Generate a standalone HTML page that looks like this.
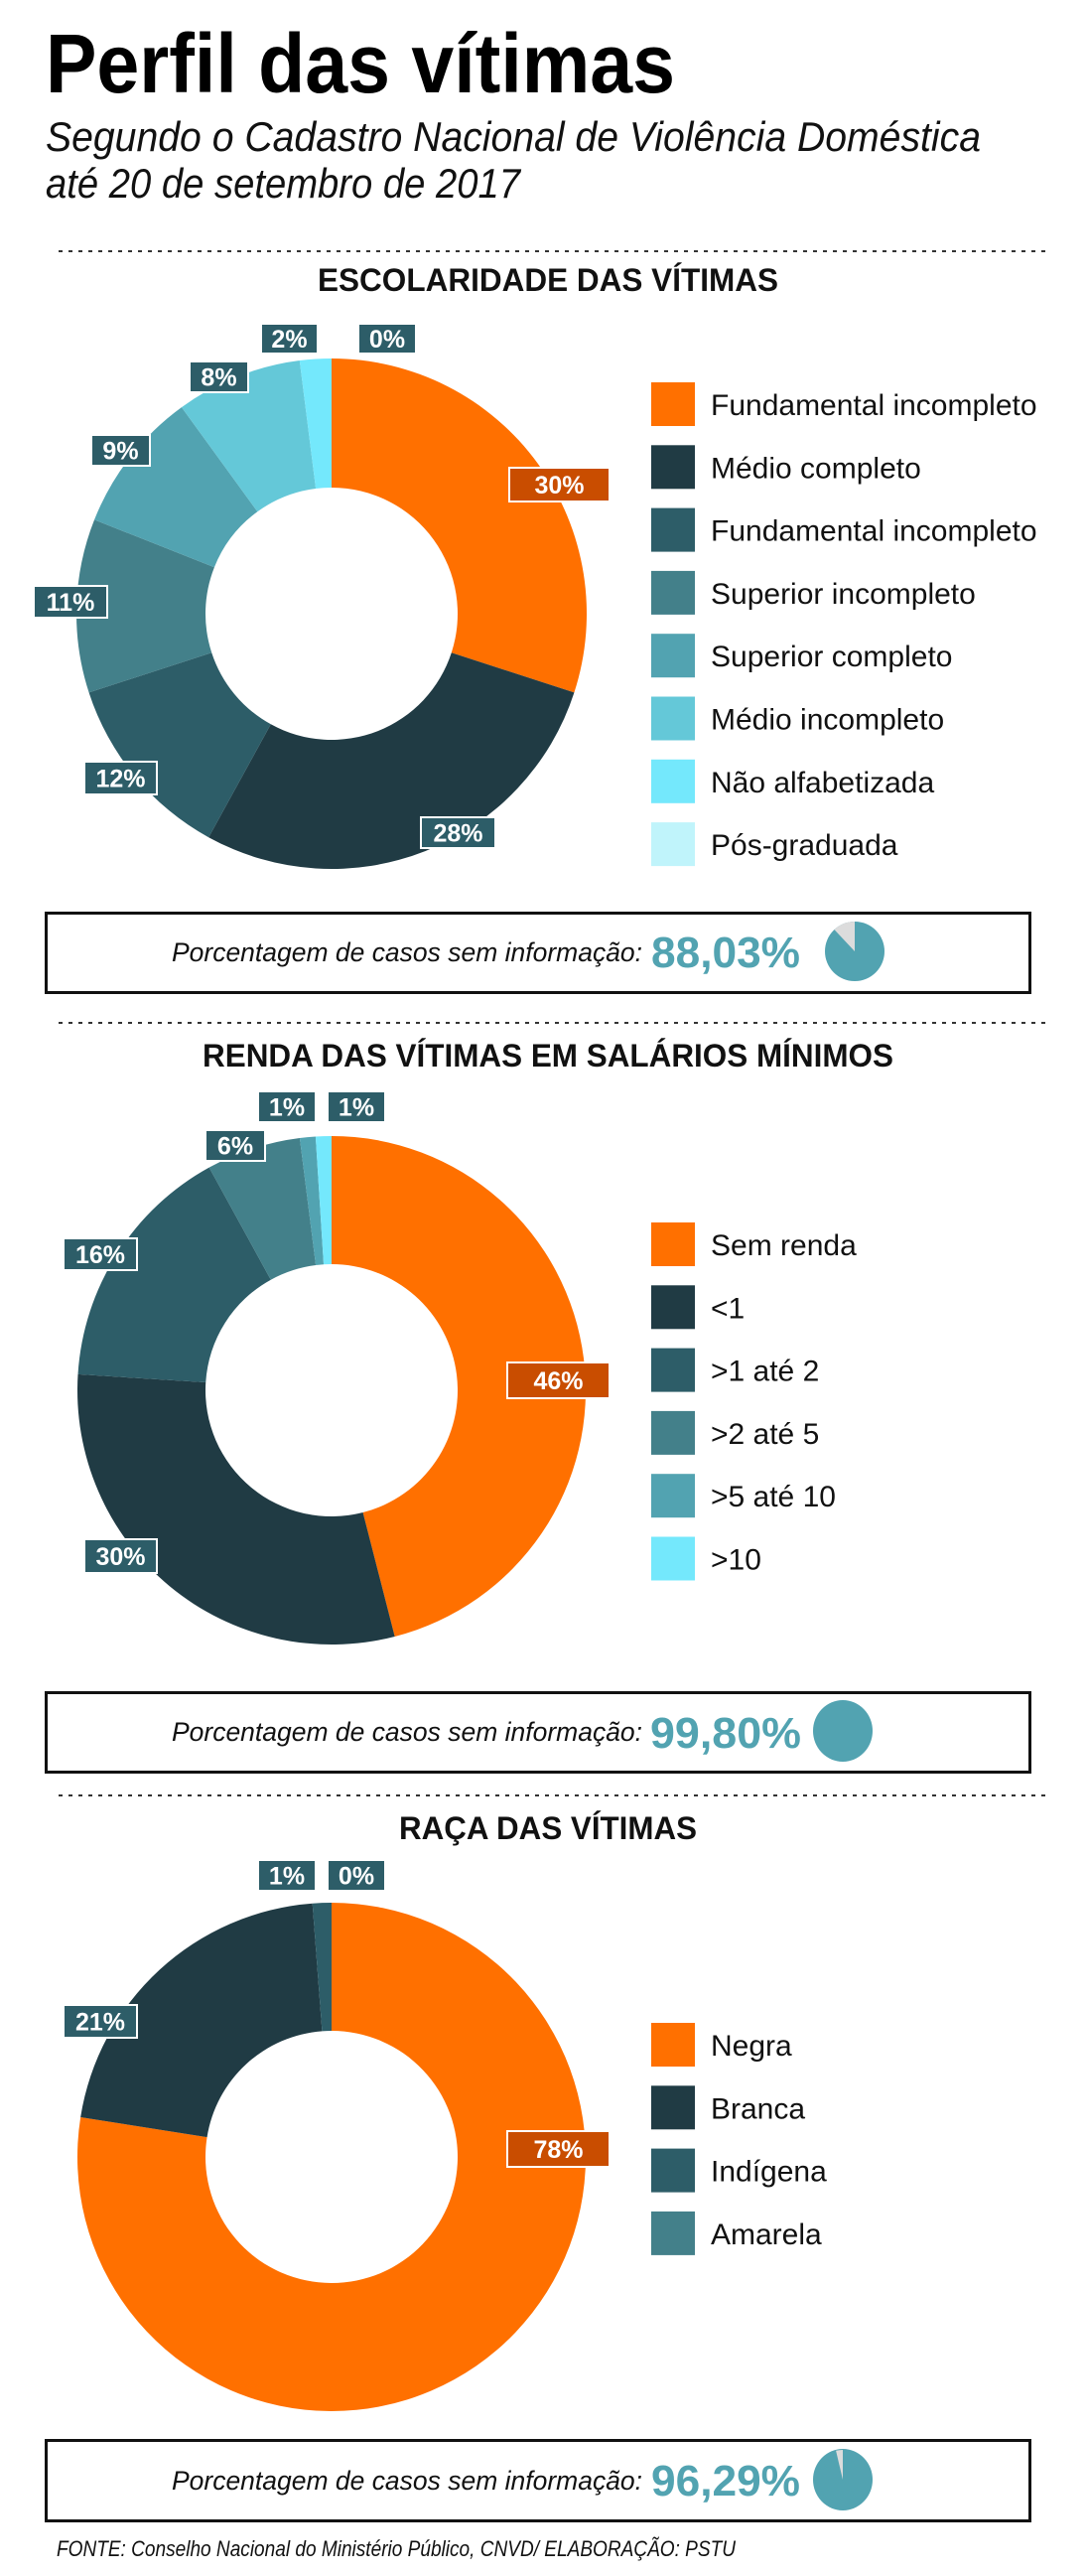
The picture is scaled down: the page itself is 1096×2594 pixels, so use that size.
<!DOCTYPE html>
<html><head><meta charset="utf-8"><style>
html,body{margin:0;padding:0;background:#fff;}
svg{display:block;}
text{font-family:"Liberation Sans",sans-serif;}
.lb{fill:#fff;font-weight:bold;font-size:25px;}
.lg{fill:#111;font-size:30px;}
.sec{fill:#111;font-weight:bold;font-size:32px;}
.pc{fill:#111;font-style:italic;font-size:27px;}
.val{fill:#52a3b1;font-weight:bold;font-size:44px;}
</style></head><body>
<svg id="s" width="1096" height="2594" viewBox="0 0 1096 2594" xmlns="http://www.w3.org/2000/svg">
<rect width="1096" height="2594" fill="#fff"/>
<text x="46" y="93" font-size="84" font-weight="bold" fill="#000" textLength="634" lengthAdjust="spacingAndGlyphs">Perfil das vítimas</text>
<text x="46" y="152" font-size="42" font-style="italic" fill="#111" textLength="942" lengthAdjust="spacingAndGlyphs">Segundo o Cadastro Nacional de Violência Doméstica</text>
<text x="46" y="199" font-size="42" font-style="italic" fill="#111" textLength="478" lengthAdjust="spacingAndGlyphs">até 20 de setembro de 2017</text>

<line x1="59" y1="253" x2="1054" y2="253" stroke="#333" stroke-width="2" stroke-dasharray="4,6"/>
<text class="sec" x="320" y="293" textLength="464" lengthAdjust="spacingAndGlyphs">ESCOLARIDADE DAS VÍTIMAS</text>
<g id="d1"></g>

<line x1="59" y1="1030" x2="1054" y2="1030" stroke="#333" stroke-width="2" stroke-dasharray="4,6"/>
<text class="sec" x="204" y="1074" textLength="696" lengthAdjust="spacingAndGlyphs">RENDA DAS VÍTIMAS EM SALÁRIOS MÍNIMOS</text>
<g id="d2"></g>

<line x1="59" y1="1808" x2="1054" y2="1808" stroke="#333" stroke-width="2" stroke-dasharray="4,6"/>
<text class="sec" x="402" y="1852" textLength="300" lengthAdjust="spacingAndGlyphs">RAÇA DAS VÍTIMAS</text>
<g id="d3"></g>

<!-- boxes -->
<rect x="46.5" y="919.5" width="991" height="80" fill="none" stroke="#111" stroke-width="3"/>
<text class="pc" x="173" y="968" textLength="474" lengthAdjust="spacingAndGlyphs">Porcentagem de casos sem informação:</text>
<text class="val" x="656" y="974" textLength="150" lengthAdjust="spacingAndGlyphs">88,03%</text>

<rect x="46.5" y="1704.5" width="991" height="80" fill="none" stroke="#111" stroke-width="3"/>
<text class="pc" x="173" y="1753" textLength="474" lengthAdjust="spacingAndGlyphs">Porcentagem de casos sem informação:</text>
<text class="val" x="655" y="1760" textLength="152" lengthAdjust="spacingAndGlyphs">99,80%</text>

<rect x="46.5" y="2457.5" width="991" height="81" fill="none" stroke="#111" stroke-width="3"/>
<text class="pc" x="173" y="2507" textLength="474" lengthAdjust="spacingAndGlyphs">Porcentagem de casos sem informação:</text>
<text class="val" x="656" y="2513" textLength="150" lengthAdjust="spacingAndGlyphs">96,29%</text>

<text x="57" y="2574" font-size="22" font-style="italic" fill="#111" textLength="684" lengthAdjust="spacingAndGlyphs">FONTE: Conselho Nacional do Ministério Público, CNVD/ ELABORAÇÃO: PSTU</text>
<g id="mini"></g>
</svg>
<script>
var NS="http://www.w3.org/2000/svg";
function el(p,tag,attrs,txt){var e=document.createElementNS(NS,tag);for(var k in attrs)e.setAttribute(k,attrs[k]);if(txt!==undefined)e.textContent=txt;p.appendChild(e);return e;}
function pt(cx,cy,r,f){var a=f*2*Math.PI;return [cx+r*Math.sin(a),cy-r*Math.cos(a)];}
function arc(cx,cy,R,r,f0,f1){
  if(f1-f0>=0.9999){f1=f0+0.99999;}
  var a=pt(cx,cy,R,f0),b=pt(cx,cy,R,f1),la=(f1-f0)>0.5?1:0;
  if(r>0){var c=pt(cx,cy,r,f1),d=pt(cx,cy,r,f0);
  return "M"+a+" A"+R+","+R+" 0 "+la+" 1 "+b+" L"+c+" A"+r+","+r+" 0 "+la+" 0 "+d+" Z";}
  return "M"+cx+","+cy+" L"+a+" A"+R+","+R+" 0 "+la+" 1 "+b+" Z";
}
function donut(g,cx,cy,R,r,vals,cols){var s=0,t=0;vals.forEach(function(v){t+=v;});
  vals.forEach(function(v,i){if(v<=0)return;el(g,"path",{d:arc(cx,cy,R,r,s/t,(s+v)/t),fill:cols[i]});s+=v;});}
function label(g,x,y,w,h,txt,orange){
  el(g,"rect",{x:x,y:y,width:w,height:h,fill:orange?"#c94d00":"#2d5d68",stroke:"#fff","stroke-width":2});
  el(g,"text",{x:x+w/2,y:y+h/2+9,"text-anchor":"middle","class":"lb"},txt);}
function legend(g,y0,items,cols){items.forEach(function(t,i){var y=y0+i*63.3;
  el(g,"rect",{x:656,y:y,width:44,height:44,fill:cols[i]});
  el(g,"text",{x:716,y:y+33,"class":"lg"},t);});}
var C=["#ff7000","#203b44","#2d5d68","#43808a","#52a3b1","#64c8d8","#74e8fc","#c0f4fb"];
var g1=document.getElementById("d1");
donut(g1,334,618,257,127,[30,28,12,11,9,8,2],C);
label(g1,263,326,57,30,"2%");label(g1,361,326,58,30,"0%");label(g1,191,364,59,31,"8%");
label(g1,92,438,59,31,"9%");label(g1,34,590,74,32,"11%");label(g1,85,767,73,33,"12%");
label(g1,424,823,75,31,"28%");label(g1,513,471,101,34,"30%",true);
legend(g1,385,["Fundamental incompleto","Médio completo","Fundamental incompleto","Superior incompleto","Superior completo","Médio incompleto","Não alfabetizada","Pós-graduada"],C);
var g2=document.getElementById("d2");
var C2=["#ff7000","#203b44","#2d5d68","#43808a","#52a3b1","#74e8fc"];
donut(g2,334,1400,256,127,[46,30,16,6,1,1],C2);
label(g2,260,1099,58,31,"1%");label(g2,330,1099,58,31,"1%");label(g2,207,1138,60,31,"6%");
label(g2,64,1247,74,32,"16%");label(g2,85,1550,73,34,"30%");label(g2,511,1372,103,36,"46%",true);
legend(g2,1231,["Sem renda","<1",">1 até 2",">2 até 5",">5 até 10",">10"],C2);
var g3=document.getElementById("d3");
donut(g3,334,2172,256,127,[77.5,21.3,1.2],["#ff7000","#203b44","#2d5d68"]);
label(g3,260,1873,58,31,"1%");label(g3,330,1873,58,31,"0%");
label(g3,64,2019,74,33,"21%");label(g3,511,2146,103,36,"78%",true);
legend(g3,2037,["Negra","Branca","Indígena","Amarela"],["#ff7000","#203b44","#2d5d68","#43808a"]);
var m=document.getElementById("mini");
el(m,"circle",{cx:861,cy:958,r:30,fill:"#52a3b1"});
el(m,"path",{d:arc(861,958,30,0,1-0.1197,1),fill:"#dcdcdc"});
el(m,"ellipse",{cx:849,cy:1743,rx:30,ry:31,fill:"#52a3b1"});
el(m,"ellipse",{cx:849,cy:2497,rx:30,ry:31,fill:"#52a3b1"});
el(m,"path",{d:arc(849,2497,30,0,1-0.0371,1),fill:"#dcdcdc"});
</script>
</body></html>
